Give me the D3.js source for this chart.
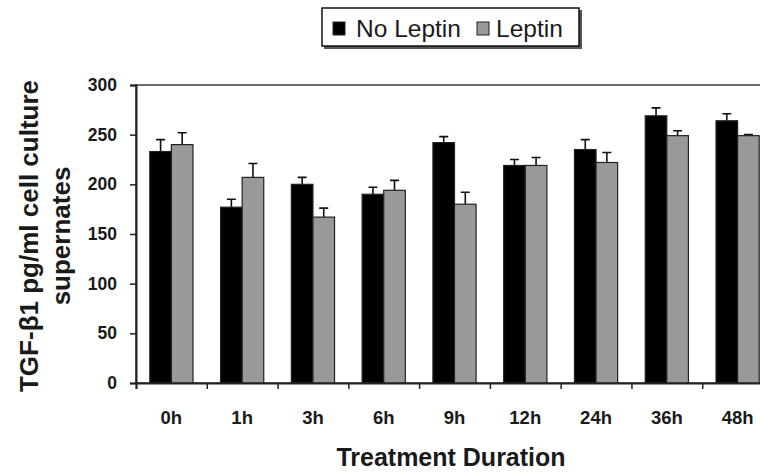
<!DOCTYPE html>
<html>
<head>
<meta charset="utf-8">
<script src="https://cdn.jsdelivr.net/npm/d3@7"></script>
<style>
  body { margin: 0; background: #fff; }
  svg { display: block; font-family: "Liberation Sans", Arial, sans-serif; }
</style>
</head>
<body>
<div class="chart"></div>
<script>
// values
const categories = ['0h', '1h', '3h', '6h', '9h', '12h', '24h', '36h', '48h'];
const noLeptin = [233, 177, 200, 190, 242, 219, 235, 269, 264];
const noLeptinErr = [12, 8, 7, 7, 6, 6, 10, 8, 7];
const leptin = [240, 207, 167, 194, 180, 219, 222, 249, 249];
const leptinErr = [12, 14, 9, 10, 12, 8, 10, 5, 1];
const yTicks = [0, 50, 100, 150, 200, 250, 300];
const seriesNames = ['No Leptin', 'Leptin'];
const seriesColors = ['#000000', '#999999'];

const width = 760;
const height = 473;
const plot = { left: 136, top: 85, right: 773, bottom: 383 };

const svg = d3.select('.chart')
  .append('svg')
  .attr('width', width)
  .attr('height', height);

const x = d3.scaleBand()
  .domain(categories)
  .range([plot.left, plot.right])
  .paddingInner(0.39)
  .paddingOuter(0.195);

const xEdges = d3.scaleLinear()
  .domain([0, categories.length])
  .range([plot.left, plot.right]);

const y = d3.scaleLinear()
  .domain([0, 300])
  .range([plot.bottom, plot.top]);

const inner = d3.scaleBand()
  .domain(seriesNames)
  .range([0, x.bandwidth()]);

// plot area border
svg.append('rect')
  .attr('x', plot.left)
  .attr('y', plot.top)
  .attr('width', plot.right - plot.left)
  .attr('height', plot.bottom - plot.top)
  .attr('fill', 'none')
  .attr('stroke', '#6e6e6e')
  .attr('stroke-width', 2);

const rows = categories.map((c, i) => ({
  cat: c,
  vals: [
    { name: seriesNames[0], v: noLeptin[i], e: noLeptinErr[i], color: seriesColors[0] },
    { name: seriesNames[1], v: leptin[i], e: leptinErr[i], color: seriesColors[1] },
  ]
}));

const groups = svg.selectAll('.group')
  .data(rows)
  .enter()
  .append('g')
  .attr('class', 'group')
  .attr('transform', d => `translate(${x(d.cat)},0)`);

// error bars (upper whisker only)
groups.selectAll('.err')
  .data(d => d.vals)
  .enter()
  .append('path')
  .attr('class', 'err')
  .attr('fill', 'none')
  .attr('stroke', '#111')
  .attr('stroke-width', 1.6)
  .attr('d', d => {
    const cx = inner(d.name) + inner.bandwidth() / 2;
    const top = y(d.v + d.e);
    return `M${cx},${y(d.v)}V${top}M${cx - 4.5},${top}H${cx + 4.5}`;
  });

groups.selectAll('.bar')
  .data(d => d.vals)
  .enter()
  .append('rect')
  .attr('class', 'bar')
  .attr('x', d => inner(d.name))
  .attr('y', d => y(d.v))
  .attr('width', inner.bandwidth())
  .attr('height', d => y(0) - y(d.v))
  .attr('fill', d => d.color)
  .attr('stroke', '#222')
  .attr('stroke-width', 1.2);

// y axis
const yAxis = svg.append('g')
  .attr('transform', `translate(${plot.left},0)`)
  .call(d3.axisLeft(y).tickValues(yTicks).tickSize(6).tickPadding(13));
yAxis.select('.domain').attr('stroke', '#222').attr('stroke-width', 2);
yAxis.selectAll('.tick line').attr('stroke', '#222').attr('stroke-width', 1.5);
yAxis.selectAll('.tick text')
  .attr('font-size', 17.5)
  .attr('font-weight', 'bold')
  .attr('fill', '#1a1a1a')
  .attr('font-family', '"Liberation Sans", Arial, sans-serif');

// x axis: ticks at category boundaries
const xAxis = svg.append('g')
  .attr('transform', `translate(0,${plot.bottom})`)
  .call(d3.axisBottom(xEdges).tickValues(d3.range(categories.length + 1)).tickSize(6).tickFormat(''));
xAxis.select('.domain').attr('stroke', '#222').attr('stroke-width', 2);
xAxis.selectAll('.tick line').attr('stroke', '#222').attr('stroke-width', 1.5);

svg.selectAll('.xlabel')
  .data(categories)
  .enter()
  .append('text')
  .attr('class', 'xlabel')
  .attr('x', d => x(d) + x.bandwidth() / 2)
  .attr('y', 424)
  .attr('text-anchor', 'middle')
  .attr('font-size', 18.5)
  .attr('font-weight', 'bold')
  .attr('fill', '#1a1a1a')
  .text(d => d);

// axis titles
svg.append('text')
  .attr('x', 451)
  .attr('y', 466)
  .attr('text-anchor', 'middle')
  .attr('font-size', 25)
  .attr('font-weight', 'bold')
  .attr('fill', '#1a1a1a')
  .text('Treatment Duration');

const yTitle = svg.append('text')
  .attr('transform', 'translate(0,236) rotate(-90)')
  .attr('text-anchor', 'middle')
  .attr('font-size', 26)
  .attr('font-weight', 'bold')
  .attr('fill', '#1a1a1a');
yTitle.append('tspan').attr('x', 0).attr('y', 38).text('TGF-β1 pg/ml cell culture');
yTitle.append('tspan').attr('x', 0).attr('y', 70).text('supernates');

// legend
const legend = svg.append('g');
legend.append('rect')
  .attr('x', 324).attr('y', 10)
  .attr('width', 258).attr('height', 39)
  .attr('fill', '#555');
legend.append('rect')
  .attr('x', 322).attr('y', 8)
  .attr('width', 257).attr('height', 38)
  .attr('fill', '#fff')
  .attr('stroke', '#111')
  .attr('stroke-width', 1.5);

const legendItems = [
  { name: seriesNames[0], color: seriesColors[0], sx: 333, tx: 356 },
  { name: seriesNames[1], color: seriesColors[1], sx: 477, tx: 496 },
];
legend.selectAll('.lsw')
  .data(legendItems)
  .enter()
  .append('rect')
  .attr('x', d => d.sx)
  .attr('y', 22)
  .attr('width', 12)
  .attr('height', 13)
  .attr('fill', d => d.color)
  .attr('stroke', '#222')
  .attr('stroke-width', 1);
legend.selectAll('.ltx')
  .data(legendItems)
  .enter()
  .append('text')
  .attr('x', d => d.tx)
  .attr('y', 37)
  .attr('font-size', 24.5)
  .attr('fill', '#1a1a1a')
  .text(d => d.name);
</script>
</body>
</html>
